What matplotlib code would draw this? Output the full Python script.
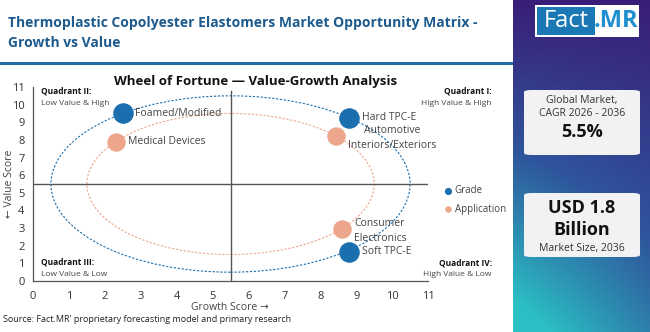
import matplotlib
matplotlib.use("Agg")
import matplotlib.pyplot as plt
import numpy as np
from matplotlib.patches import Ellipse, FancyBboxPatch, Rectangle

plt.rcParams['font.family'] = ['Open Sans', 'DejaVu Sans']

# ---- data ----
grade_names = ["Foamed/Modified", "Hard TPC-E", "Soft TPC-E"]
grade_growth = [2.5, 8.8, 8.8]
grade_value = [9.5, 9.25, 1.65]

app_names = ["Medical Devices", "Automotive\nInteriors/Exteriors", "Consumer\nElectronics"]
app_growth = [2.3, 8.45, 8.6]
app_value = [7.9, 8.2, 2.95]

center = (5.5, 5.5)
grade_radius = 5.0
app_radius = 4.0
x_ticks = list(range(0, 12))
y_ticks = list(range(0, 12))

BLUE = "#1b6fae"
ORANGE = "#eda58b"
TITLE_BLUE = "#1d5b8f"

W, H = 650, 332
fig = plt.figure(figsize=(W / 100, H / 100), dpi=100)
fig.patch.set_facecolor("white")

def fx(px):
    return px / W

def fy(py):
    return 1 - py / H

# ---- header ----
fig.text(fx(8), fy(23), "Thermoplastic Copolyester Elastomers Market Opportunity Matrix -",
         fontsize=10, fontweight="bold", color=TITLE_BLUE, va="center", ha="left")
fig.text(fx(8), fy(43), "Growth vs Value",
         fontsize=10, fontweight="bold", color=TITLE_BLUE, va="center", ha="left")
fig.add_artist(Rectangle((0, fy(64.5)), fx(513), 3 / H, transform=fig.transFigure,
                         facecolor="#1f6ea8", edgecolor="none"))

# ---- right panel gradient ----
grad_ax = fig.add_axes([fx(513), 0, fx(W - 513), 1])
ny, nx = 200, 100
yy, xx = np.mgrid[0:1:ny * 1j, 0:1:nx * 1j]
t = np.clip(0.7 * yy + 0.4 * (1 - xx) * yy, 0, 1)
top = np.array([0x3a, 0x1d, 0x78]) / 255
mid = np.array([0x2f, 0x55, 0x9c]) / 255
bot = np.array([0x2b, 0xc0, 0xc4]) / 255
img = np.zeros((ny, nx, 3))
for c in range(3):
    img[..., c] = np.where(t < 0.5, top[c] + (mid[c] - top[c]) * (t / 0.5),
                           mid[c] + (bot[c] - mid[c]) * ((t - 0.5) / 0.5))
grad_ax.imshow(img, aspect="auto", extent=[0, 1, 1, 0])
grad_ax.set_xlim(0, 1)
grad_ax.set_ylim(1, 0)
grad_ax.axis("off")

# logo
fig.add_artist(Rectangle((fx(535), fy(37)), fx(104), 32 / H, transform=fig.transFigure,
                         facecolor="white", edgecolor="none"))
fig.add_artist(Rectangle((fx(537), fy(35)), fx(58), 28 / H, transform=fig.transFigure,
                         facecolor="#1a78b4", edgecolor="none"))
fig.text(fx(566), fy(21), "Fact", fontsize=17, color="white", ha="center", va="center")
fig.text(fx(616), fy(21), ".MR", fontsize=17, color="#1f8fd0", ha="center", va="center",
         fontweight="bold")

# cards
for (y0, y1) in [(90, 155), (193, 257)]:
    fig.add_artist(FancyBboxPatch((fx(524), fy(y1)), fx(116), (y1 - y0) / H,
                                  boxstyle="round,pad=0,rounding_size=0.012",
                                  transform=fig.transFigure, facecolor="#f2f2f5",
                                  edgecolor="none", mutation_aspect=H / W))
fig.text(fx(582), fy(100), "Global Market,", fontsize=7.5, color="#333333", ha="center", va="center")
fig.text(fx(582), fy(113), "CAGR 2026 - 2036", fontsize=7.5, color="#333333", ha="center", va="center")
fig.text(fx(582), fy(132), "5.5%", fontsize=13, fontweight="bold", color="#111111", ha="center", va="center")
fig.text(fx(582), fy(208), "USD 1.8", fontsize=13, fontweight="bold", color="#111111", ha="center", va="center")
fig.text(fx(582), fy(230), "Billion", fontsize=13, fontweight="bold", color="#111111", ha="center", va="center")
fig.text(fx(582), fy(248), "Market Size, 2036", fontsize=7.5, color="#333333", ha="center", va="center")

# ---- main chart ----
ax = fig.add_axes([fx(33), 1 - 281 / H, fx(428 - 33), (281 - 87) / H])
ax.set_xlim(0, 11)
ax.set_ylim(0, 11)
for s in ["top", "right"]:
    ax.spines[s].set_visible(False)
for s in ["left", "bottom"]:
    ax.spines[s].set_color("#555555")
    ax.spines[s].set_linewidth(0.9)
ax.set_xticks(x_ticks)
ax.set_yticks(y_ticks)
ax.tick_params(length=0, labelsize=8, colors="#333333", pad=7)
ax.tick_params(axis="y", pad=6)

ax.axvline(center[0], color="#555555", lw=1.0, ymax=0.98)
ax.axhline(center[1], color="#555555", lw=1.0)

ax.add_patch(Ellipse(center, 2 * grade_radius, 2 * grade_radius, fill=False,
                     edgecolor=BLUE, lw=0.8, linestyle=(0, (2, 1.5))))
ax.add_patch(Ellipse(center, 2 * app_radius, 2 * app_radius, fill=False,
                     edgecolor=ORANGE, lw=0.8, linestyle=(0, (2, 1.5))))

ax.scatter(grade_growth, grade_value, s=190, color=BLUE, zorder=5, label="Grade")
ax.scatter(app_growth, app_value, s=150, color=ORANGE, zorder=5, label="Application")

lab_kw = dict(fontsize=7.5, color="#444444", zorder=6)
ax.text(grade_growth[0] + 0.35, grade_value[0], grade_names[0], ha="left", va="center", **lab_kw)
ax.text(grade_growth[1] + 0.35, grade_value[1], grade_names[1], ha="left", va="center", **lab_kw)
ax.text(grade_growth[2] + 0.35, grade_value[2], grade_names[2], ha="left", va="center", **lab_kw)
ax.text(app_growth[0] + 0.35, app_value[0], app_names[0], ha="left", va="center", **lab_kw)
ax.text(app_growth[1] + 0.33, app_value[1] - 0.1, app_names[1], ha="left", va="center",
        multialignment="center", linespacing=1.45, **lab_kw)
ax.text(app_growth[2] + 0.35, app_value[2] - 0.1, app_names[2], ha="left", va="center",
        linespacing=1.45, **lab_kw)

fig.text(fx(256), fy(82), "Wheel of Fortune — Value-Growth Analysis", fontsize=9.5,
         fontweight="bold", color="#111111", ha="center", va="center")
fig.text(fx(230), fy(307), "Growth Score →", fontsize=7.5, color="#444444", ha="center", va="center")
fig.text(fx(10), fy(184), "← Value Score", fontsize=7.5, color="#444444", ha="center", va="center",
         rotation=90)

# quadrant labels
qk = dict(fontsize=6, va="center")
fig.text(fx(41), fy(91), "Quadrant II:", fontweight="bold", color="#111111", **qk)
fig.text(fx(41), fy(103), "Low Value & High", color="#444444", **qk)
fig.text(fx(41), fy(262), "Quadrant III:", fontweight="bold", color="#111111", **qk)
fig.text(fx(41), fy(274), "Low Value & Low", color="#444444", **qk)
fig.text(fx(492), fy(91), "Quadrant I:", fontweight="bold", color="#111111", ha="right", **qk)
fig.text(fx(491), fy(103), "High Value & High", color="#444444", ha="right", **qk)
fig.text(fx(492), fy(263), "Quadrant IV:", fontweight="bold", color="#111111", ha="right", **qk)
fig.text(fx(491), fy(275), "High Value & Low", color="#444444", ha="right", **qk)

leg = ax.legend(loc="center left", bbox_to_anchor=((444 - 33) / 395, (281 - 200) / 194),
                frameon=False, fontsize=7, markerscale=0.3, handletextpad=0.3,
                labelspacing=0.8, handlelength=0.8, labelcolor="#444444",
                borderaxespad=0, borderpad=0)

fig.text(fx(3), fy(320), "Source: Fact.MR' proprietary forecasting model and primary research",
         fontsize=6.5, color="#222222", va="center")

fig.savefig("out.png", dpi=100, facecolor="white")
